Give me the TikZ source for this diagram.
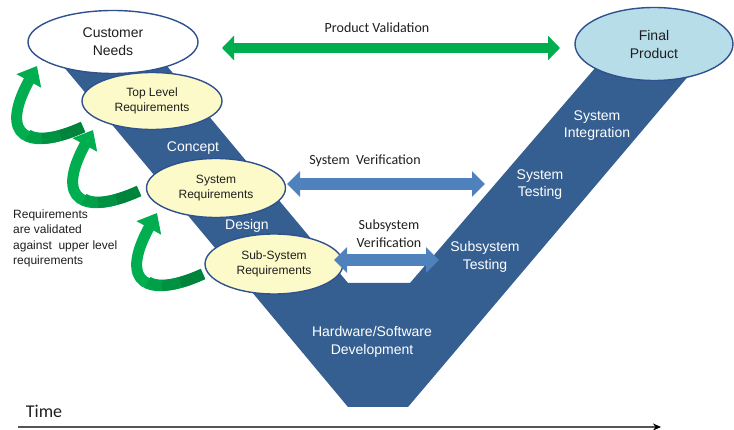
\documentclass[tikz,border=0pt]{standalone}
\usepackage{fontspec}
\setmainfont{Liberation Sans}
\newfontfamily\calfont{Carlito}
\usetikzlibrary{arrows.meta,shapes.geometric}
\definecolor{vblue}{RGB}{54,95,145}
\definecolor{eline}{RGB}{47,82,143}
\definecolor{yfill}{RGB}{252,250,200}
\definecolor{pfill}{RGB}{183,221,232}
\definecolor{agreen}{RGB}{0,174,80}
\definecolor{dgreen}{RGB}{0,132,60}
\definecolor{ablue}{RGB}{79,129,189}
\definecolor{txt}{RGB}{30,30,30}
\definecolor{axis}{RGB}{85,85,85}
\begin{document}
\begin{tikzpicture}[x=1pt,y=-1pt,
  ell/.style={ellipse, draw=eline, line width=1.4pt, inner sep=0pt, align=center, text=txt},
  reqell/.style={ell, fill=yfill, font=\fontsize{12}{15.5}\selectfont},
  bigell/.style={ell, font=\fontsize{14}{18}\selectfont},
  wlabel/.style={text=white, align=center, inner sep=0pt, font=\fontsize{14}{17.5}\selectfont},
  blabel/.style={text=txt, align=center, inner sep=0pt, font=\calfont\fontsize{14}{18}\selectfont},
  garrow/.style={line width=11pt, draw=agreen, -{Triangle[length=17pt,width=27pt]}},
  gseg/.style={line width=11.2pt},
  barrow/.style={line width=12pt, draw=ablue, {Triangle[length=13pt,width=25pt]}-{Triangle[length=13pt,width=25pt]}},
  varrow/.style={line width=10pt, draw=agreen, {Triangle[length=12pt,width=24pt]}-{Triangle[length=12pt,width=24pt]}},
  valarrow/.pic={
    \draw[garrow] (0,0) .. controls (-55,25) and (-85,10) .. (-46,-61);
    \draw[gseg, draw=dgreen] (0,0) .. controls (-8.25,3.75) and (-15.94,6.60) .. (-22.91,8.50);
    \draw[gseg, draw=dgreen!67!agreen] (-22.91,8.50) .. controls (-29.89,10.40) and (-36.16,11.34) .. (-41.57,11.27);
    \draw[gseg, draw=dgreen!33!agreen] (-41.57,11.27) .. controls (-46.98,11.20) and (-51.51,10.13) .. (-55.05,7.99);
  }
]
\useasboundingbox (0,0) rectangle (734,430);
% V shape
\fill[vblue] (58,60) -- (348,407) -- (408,407) -- (702,60) -- (602,60)
  -- (410,283) -- (348,283) -- (162,60) -- cycle;
% green curved arrows (validation against upper level)
\coordinate (g1s) at (83,127);
\coordinate (g2s) at (139,191);
\coordinate (g3s) at (203,274);
\pic at (g1s) {valarrow};
\pic at (g2s) {valarrow};
\pic at (g3s) {valarrow};
% ellipses
\node[bigell, fill=white, minimum width=170pt, minimum height=63pt] (cn) at (113,42) {Customer\\Needs};
\node[bigell, fill=pfill, minimum width=158pt, minimum height=73pt] (fp) at (654,44) {Final\\Product};
\node[reqell, minimum width=140pt, minimum height=57pt] (tl) at (152,101) {Top Level\\Requirements};
\node[reqell, minimum width=139pt, minimum height=59pt] (sr) at (216,188) {System\\Requirements};
\node[reqell, minimum width=138pt, minimum height=60pt] (ssr) at (274,264) {Sub-System\\Requirements};
% labels on the V
\node[wlabel] (concept) at (193,148) {Concept};
\node[wlabel] (design) at (247,226) {Design};
\node[wlabel] (hw) at (372,342) {Hardware/Software\\Development};
\node[wlabel] (sst) at (485,257) {Subsystem\\Testing};
\node[wlabel] (st) at (540,184.5) {System\\Testing};
\node[wlabel] (si) at (597,125.5) {System\\Integration};
% horizontal arrows
\coordinate (pvl) at (222,48); \coordinate (pvr) at (560,48);
\draw[varrow] (pvl) -- (pvr);
\coordinate (svl) at (287,184); \coordinate (svr) at (485,184);
\draw[barrow] (svl) -- (svr);
\coordinate (ssl) at (334,260); \coordinate (ssr2) at (439,260);
\draw[barrow] (ssl) -- (ssr2);
\node[blabel] (pv) at (377,28) {Product Validation};
\node[blabel] (sv) at (365,161) {System\ \ Verification};
\node[blabel] (ssv) at (389,234) {Subsystem\\Verification};
% left note
\node[anchor=north west, align=left, inner sep=0pt, text=txt, font=\fontsize{12}{15.5}\selectfont] (note) at (13,209.5)
  {Requirements\\are validated\\against\ \ upper level\\requirements};
% time axis
\coordinate (t0) at (18,427); \coordinate (t1) at (661,427);
\draw[line width=1.5pt, draw=axis, -{Stealth[length=8pt,width=7pt,color=black]}] (t0) -- (t1);
\node[text=txt, inner sep=0pt, font=\calfont\fontsize{18}{20}\selectfont] (time) at (44,411) {Time};
\end{tikzpicture}
\end{document}
